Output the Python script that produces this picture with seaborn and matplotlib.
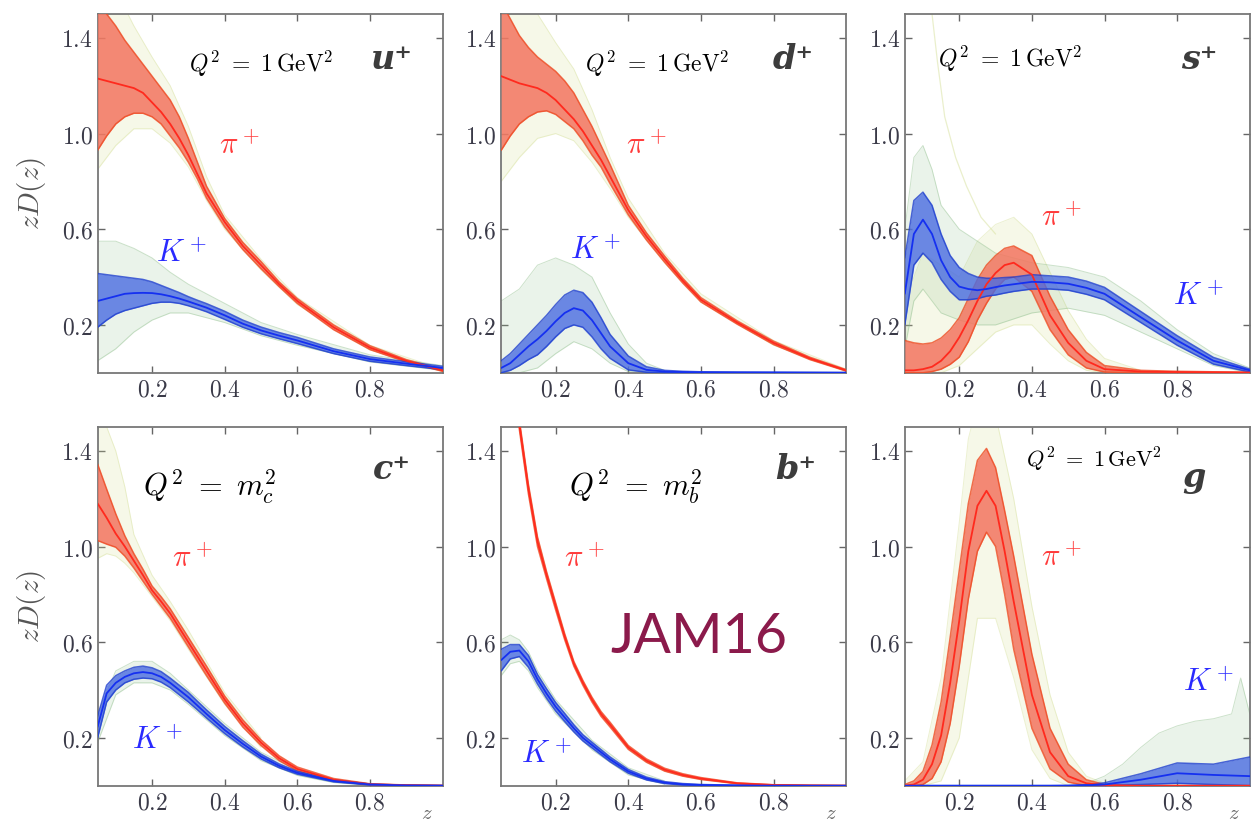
import numpy as np
import pandas as pd
import matplotlib
matplotlib.use("Agg")
import matplotlib.pyplot as plt
import seaborn as sns
from matplotlib.ticker import FormatStrFormatter

# shared z grid for the central curves and 1-sigma bands
z = [0.05, 0.075, 0.1, 0.125, 0.15, 0.175, 0.2, 0.225, 0.25, 0.275, 0.3,
     0.325, 0.35, 0.4, 0.45, 0.5, 0.55, 0.6, 0.7, 0.8, 0.9, 1.0]

# ---- u+ ----
u_pi_mid = [1.23, 1.22, 1.21, 1.20, 1.19, 1.17, 1.13, 1.09, 1.04, 0.98, 0.91, 0.83, 0.75, 0.63, 0.53, 0.45, 0.37, 0.30, 0.19, 0.105, 0.05, 0.01]
u_pi_lo = [0.93, 0.99, 1.04, 1.07, 1.085, 1.085, 1.07, 1.04, 0.99, 0.94, 0.88, 0.81, 0.73, 0.61, 0.515, 0.435, 0.36, 0.29, 0.18, 0.097, 0.045, 0.006]
u_pi_hi = [1.55, 1.50, 1.45, 1.39, 1.34, 1.29, 1.24, 1.19, 1.14, 1.07, 0.98, 0.88, 0.78, 0.645, 0.545, 0.465, 0.38, 0.31, 0.20, 0.113, 0.055, 0.014]
u_k_mid = [0.30, 0.31, 0.32, 0.33, 0.333, 0.334, 0.333, 0.328, 0.32, 0.31, 0.298, 0.285, 0.272, 0.24, 0.205, 0.177, 0.155, 0.135, 0.09, 0.057, 0.038, 0.02]
u_k_lo = [0.19, 0.22, 0.245, 0.26, 0.27, 0.28, 0.29, 0.295, 0.295, 0.29, 0.28, 0.268, 0.255, 0.223, 0.19, 0.163, 0.142, 0.122, 0.08, 0.048, 0.03, 0.013]
u_k_hi = [0.415, 0.41, 0.405, 0.40, 0.395, 0.39, 0.38, 0.365, 0.35, 0.335, 0.318, 0.303, 0.289, 0.257, 0.22, 0.191, 0.168, 0.148, 0.10, 0.066, 0.046, 0.027]
u_pi_halo_z = [0.05, 0.1, 0.15, 0.2, 0.25, 0.3, 0.35, 0.4, 0.5, 0.6, 0.8, 1.0]
u_pi_halo_lo = [0.85, 0.95, 1.02, 1.02, 0.96, 0.86, 0.72, 0.6, 0.43, 0.285, 0.095, 0.005]
u_pi_halo_hi = [1.6, 1.6, 1.45, 1.32, 1.2, 1.03, 0.82, 0.66, 0.475, 0.315, 0.115, 0.015]
u_k_halo_z = [0.05, 0.1, 0.15, 0.2, 0.25, 0.3, 0.4, 0.5, 0.6, 0.8, 1.0]
u_k_halo_lo = [0.05, 0.1, 0.17, 0.22, 0.25, 0.25, 0.21, 0.155, 0.115, 0.045, 0.01]
u_k_halo_hi = [0.55, 0.55, 0.52, 0.48, 0.42, 0.37, 0.29, 0.21, 0.16, 0.075, 0.03]

# ---- d+ ----
d_pi_mid = [1.24, 1.225, 1.21, 1.20, 1.19, 1.17, 1.14, 1.10, 1.06, 1.01, 0.95, 0.89, 0.82, 0.68, 0.57, 0.475, 0.385, 0.305, 0.21, 0.125, 0.06, 0.01]
d_pi_lo = [0.93, 0.99, 1.04, 1.07, 1.09, 1.095, 1.08, 1.05, 1.02, 0.97, 0.91, 0.86, 0.79, 0.66, 0.555, 0.462, 0.375, 0.296, 0.203, 0.118, 0.055, 0.007]
d_pi_hi = [1.55, 1.48, 1.41, 1.36, 1.32, 1.29, 1.26, 1.22, 1.17, 1.10, 1.03, 0.95, 0.87, 0.70, 0.585, 0.488, 0.395, 0.314, 0.217, 0.132, 0.065, 0.013]
d_k_mid = [0.02, 0.04, 0.075, 0.11, 0.14, 0.175, 0.215, 0.25, 0.27, 0.26, 0.22, 0.165, 0.11, 0.04, 0.012, 0.005, 0.003, 0.002, 0.001, 0.001, 0.0, 0.0]
d_k_lo = [0.0, 0.01, 0.03, 0.055, 0.075, 0.11, 0.15, 0.185, 0.2, 0.19, 0.15, 0.1, 0.06, 0.012, 0.002, 0.0, 0.0, 0.0, 0.0, 0.0, 0.0, 0.0]
d_k_hi = [0.05, 0.08, 0.12, 0.16, 0.2, 0.24, 0.285, 0.325, 0.345, 0.335, 0.295, 0.23, 0.16, 0.07, 0.025, 0.01, 0.006, 0.004, 0.003, 0.002, 0.002, 0.001]
d_pi_halo_z = [0.05, 0.1, 0.15, 0.2, 0.25, 0.3, 0.35, 0.4, 0.5, 0.6, 0.8, 1.0]
d_pi_halo_lo = [0.8, 0.9, 0.98, 1.0, 0.97, 0.88, 0.77, 0.65, 0.46, 0.295, 0.115, 0.005]
d_pi_halo_hi = [1.6, 1.6, 1.5, 1.38, 1.27, 1.1, 0.9, 0.73, 0.5, 0.33, 0.135, 0.015]
d_k_halo_z = [0.05, 0.1, 0.15, 0.2, 0.25, 0.3, 0.35, 0.4, 0.45, 0.5]
d_k_halo_lo = [0.0, 0.0, 0.02, 0.08, 0.13, 0.1, 0.04, 0.005, 0.0, 0.0]
d_k_halo_hi = [0.3, 0.35, 0.45, 0.48, 0.45, 0.4, 0.25, 0.12, 0.04, 0.01]

# ---- s+ ----
s_pi_mid = [0.01, 0.01, 0.015, 0.025, 0.05, 0.09, 0.148, 0.22, 0.30, 0.37, 0.417, 0.45, 0.46, 0.41, 0.24, 0.125, 0.05, 0.015, 0.005, 0.003, 0.002, 0.001]
s_pi_lo = [0.0, 0.0, 0.0, 0.005, 0.015, 0.035, 0.065, 0.13, 0.22, 0.29, 0.35, 0.39, 0.40, 0.34, 0.18, 0.075, 0.02, 0.003, 0.0, 0.0, 0.0, 0.0]
s_pi_hi = [0.135, 0.125, 0.12, 0.125, 0.145, 0.18, 0.23, 0.31, 0.39, 0.45, 0.49, 0.52, 0.53, 0.49, 0.32, 0.18, 0.085, 0.03, 0.01, 0.006, 0.004, 0.002]
s_k_mid = [0.33, 0.58, 0.64, 0.58, 0.47, 0.40, 0.36, 0.35, 0.345, 0.35, 0.358, 0.365, 0.37, 0.38, 0.378, 0.372, 0.355, 0.33, 0.232, 0.135, 0.05, 0.01]
s_k_lo = [0.2, 0.45, 0.5, 0.46, 0.39, 0.34, 0.305, 0.305, 0.31, 0.32, 0.325, 0.333, 0.34, 0.35, 0.35, 0.345, 0.328, 0.305, 0.21, 0.115, 0.036, 0.003]
s_k_hi = [0.48, 0.72, 0.755, 0.70, 0.58, 0.49, 0.44, 0.415, 0.40, 0.395, 0.395, 0.398, 0.40, 0.41, 0.405, 0.40, 0.383, 0.357, 0.256, 0.155, 0.064, 0.015]
s_pi_halo_z = [0.05, 0.1, 0.15, 0.2, 0.25, 0.3, 0.35, 0.4, 0.45, 0.5, 0.55, 0.6, 0.7]
s_pi_halo_lo = [0.0, 0.0, 0.0, 0.03, 0.1, 0.17, 0.2, 0.2, 0.12, 0.05, 0.01, 0.0, 0.0]
s_pi_halo_hi = [0.3, 0.5, 0.45, 0.4, 0.55, 0.62, 0.65, 0.58, 0.42, 0.26, 0.14, 0.06, 0.01]
s_pi_stray_z = [0.125, 0.14, 0.16, 0.19, 0.22, 0.26, 0.3]
s_pi_stray = [1.5, 1.3, 1.07, 0.9, 0.78, 0.65, 0.58]
s_k_halo_z = [0.05, 0.075, 0.1, 0.125, 0.15, 0.2, 0.25, 0.3, 0.4, 0.5, 0.6, 0.7, 0.8, 0.9, 1.0]
s_k_halo_lo = [0.1, 0.3, 0.35, 0.3, 0.25, 0.22, 0.2, 0.2, 0.25, 0.27, 0.24, 0.17, 0.1, 0.03, 0.0]
s_k_halo_hi = [0.6, 0.9, 0.95, 0.85, 0.7, 0.6, 0.55, 0.5, 0.46, 0.44, 0.4, 0.3, 0.18, 0.08, 0.02]

# ---- c+ ----
c_pi_mid = [1.18, 1.12, 1.054, 1.0, 0.94, 0.88, 0.817, 0.77, 0.72, 0.66, 0.60, 0.54, 0.48, 0.36, 0.26, 0.18, 0.115, 0.07, 0.025, 0.006, 0.002, 0.0]
c_pi_lo = [1.025, 1.01, 0.997, 0.96, 0.91, 0.855, 0.80, 0.75, 0.70, 0.64, 0.58, 0.52, 0.46, 0.345, 0.245, 0.168, 0.105, 0.062, 0.02, 0.004, 0.001, 0.0]
c_pi_hi = [1.345, 1.24, 1.137, 1.045, 0.97, 0.905, 0.835, 0.79, 0.74, 0.68, 0.62, 0.56, 0.50, 0.375, 0.275, 0.192, 0.125, 0.078, 0.03, 0.008, 0.003, 0.001]
c_k_mid = [0.246, 0.386, 0.43, 0.455, 0.47, 0.475, 0.47, 0.455, 0.43, 0.40, 0.37, 0.335, 0.30, 0.233, 0.175, 0.122, 0.083, 0.054, 0.02, 0.005, 0.001, 0.0]
c_k_lo = [0.2, 0.35, 0.40, 0.43, 0.445, 0.45, 0.447, 0.433, 0.41, 0.38, 0.35, 0.317, 0.283, 0.218, 0.162, 0.112, 0.075, 0.048, 0.016, 0.003, 0.0, 0.0]
c_k_hi = [0.29, 0.42, 0.46, 0.48, 0.495, 0.5, 0.493, 0.477, 0.45, 0.42, 0.39, 0.353, 0.317, 0.248, 0.188, 0.132, 0.091, 0.06, 0.024, 0.007, 0.002, 0.001]
c_pi_halo_z = [0.05, 0.075, 0.1, 0.125, 0.15, 0.2, 0.25, 0.3, 0.4, 0.5]
c_pi_halo_lo = [0.95, 0.97, 0.96, 0.93, 0.89, 0.79, 0.69, 0.57, 0.34, 0.16]
c_pi_halo_hi = [1.5, 1.5, 1.4, 1.25, 1.05, 0.88, 0.77, 0.65, 0.39, 0.2]
c_k_halo_z = [0.05, 0.1, 0.15, 0.2, 0.25, 0.3, 0.4, 0.5, 0.6, 0.7, 0.8]
c_k_halo_lo = [0.18, 0.38, 0.43, 0.43, 0.4, 0.34, 0.21, 0.105, 0.043, 0.013, 0.002]
c_k_halo_hi = [0.3, 0.48, 0.52, 0.52, 0.47, 0.4, 0.26, 0.14, 0.066, 0.027, 0.008]

# ---- b+ ----
b_pi_mid = [2.3, 1.85, 1.51, 1.24, 1.02, 0.88, 0.75, 0.622, 0.51, 0.43, 0.36, 0.30, 0.255, 0.16, 0.105, 0.067, 0.045, 0.03, 0.01, 0.003, 0.001, 0.0]
b_pi_lo = [2.28, 1.83, 1.49, 1.22, 1.0, 0.865, 0.735, 0.61, 0.5, 0.42, 0.35, 0.29, 0.245, 0.152, 0.098, 0.061, 0.04, 0.026, 0.008, 0.002, 0.0, 0.0]
b_pi_hi = [2.32, 1.87, 1.53, 1.26, 1.04, 0.895, 0.765, 0.635, 0.52, 0.44, 0.37, 0.31, 0.265, 0.168, 0.112, 0.073, 0.05, 0.034, 0.012, 0.004, 0.002, 0.001]
b_k_mid = [0.525, 0.56, 0.565, 0.52, 0.445, 0.385, 0.33, 0.285, 0.24, 0.2, 0.17, 0.14, 0.11, 0.06, 0.03, 0.013, 0.006, 0.003, 0.001, 0.0, 0.0, 0.0]
b_k_lo = [0.48, 0.53, 0.54, 0.495, 0.425, 0.365, 0.312, 0.268, 0.225, 0.187, 0.158, 0.129, 0.1, 0.052, 0.024, 0.009, 0.003, 0.001, 0.0, 0.0, 0.0, 0.0]
b_k_hi = [0.57, 0.59, 0.59, 0.545, 0.465, 0.405, 0.348, 0.302, 0.255, 0.213, 0.182, 0.151, 0.12, 0.068, 0.036, 0.017, 0.009, 0.005, 0.002, 0.001, 0.0, 0.0]
b_k_halo_z = [0.05, 0.075, 0.1, 0.125, 0.15, 0.2, 0.3, 0.4, 0.5]
b_k_halo_lo = [0.46, 0.51, 0.52, 0.48, 0.41, 0.3, 0.15, 0.045, 0.006]
b_k_halo_hi = [0.61, 0.63, 0.61, 0.56, 0.48, 0.36, 0.19, 0.075, 0.02]

# ---- g ----
g_pi_mid = [0.0, 0.005, 0.025, 0.09, 0.21, 0.43, 0.69, 0.98, 1.17, 1.233, 1.17, 0.98, 0.77, 0.38, 0.14, 0.04, 0.01, 0.002, 0.0, 0.0, 0.0, 0.0]
g_pi_lo = [0.0, 0.0, 0.005, 0.03, 0.1, 0.26, 0.5, 0.78, 0.98, 1.06, 1.0, 0.8, 0.57, 0.24, 0.07, 0.015, 0.0, 0.0, 0.0, 0.0, 0.0, 0.0]
g_pi_hi = [0.005, 0.02, 0.06, 0.17, 0.35, 0.62, 0.9, 1.18, 1.36, 1.41, 1.33, 1.15, 0.96, 0.55, 0.24, 0.09, 0.025, 0.005, 0.0, 0.0, 0.0, 0.0]
g_k_mid = [0.0, 0.0, 0.0, 0.0, 0.0, 0.0, 0.0, 0.0, 0.0, 0.0, 0.0, 0.0, 0.0, 0.0, 0.0, 0.0, 0.002, 0.005, 0.025, 0.052, 0.045, 0.04]
g_k_lo = [0.0, 0.0, 0.0, 0.0, 0.0, 0.0, 0.0, 0.0, 0.0, 0.0, 0.0, 0.0, 0.0, 0.0, 0.0, 0.0, 0.0, 0.0, 0.005, 0.01, 0.005, 0.0]
g_k_hi = [0.0, 0.0, 0.0, 0.0, 0.0, 0.0, 0.0, 0.0, 0.0, 0.0, 0.0, 0.0, 0.0, 0.0, 0.0, 0.001, 0.004, 0.012, 0.05, 0.095, 0.09, 0.12]
g_pi_halo_z = [0.05, 0.1, 0.15, 0.2, 0.225, 0.25, 0.3, 0.35, 0.4, 0.45, 0.5, 0.55, 0.6]
g_pi_halo_lo = [0.0, 0.0, 0.02, 0.2, 0.45, 0.7, 0.7, 0.45, 0.15, 0.03, 0.0, 0.0, 0.0]
g_pi_halo_hi = [0.02, 0.1, 0.45, 1.1, 1.45, 1.6, 1.55, 1.2, 0.75, 0.38, 0.14, 0.04, 0.01]
g_k_halo_z = [0.55, 0.6, 0.65, 0.7, 0.75, 0.8, 0.85, 0.9, 0.95, 0.975, 1.0]
g_k_halo_lo = [0.0, 0.0, 0.0, 0.0, 0.0, 0.0, 0.0, 0.0, 0.0, 0.0, 0.0]
g_k_halo_hi = [0.01, 0.04, 0.09, 0.16, 0.22, 0.25, 0.27, 0.28, 0.3, 0.45, 0.3]

flavours = ['u', 'd', 's', 'c', 'b', 'g']
flavour_labels = ['u\u207a', 'd\u207a', 's\u207a', 'c\u207a', 'b\u207a', 'g']
scale_labels = [r'$Q^2\ =\ 1\,\mathrm{GeV}^2$', r'$Q^2\ =\ 1\,\mathrm{GeV}^2$',
                r'$Q^2\ =\ 1\,\mathrm{GeV}^2$', r'$Q^2\ =\ m_c^2$',
                r'$Q^2\ =\ m_b^2$', r'$Q^2\ =\ 1\,\mathrm{GeV}^2$']
x_ticks = [0.2, 0.4, 0.6, 0.8]
y_ticks = [0.2, 0.6, 1.0, 1.4]

sns.set_style('ticks')
plt.rcParams['mathtext.fontset'] = 'cm'
plt.rcParams['font.family'] = ['DejaVu Sans']

PI_BAND, PI_EDGE, PI_LINE, PI_HALO = '#f37560', '#ee4a22', '#ff2a1e', '#d6e09a'
K_BAND, K_EDGE, K_LINE, K_HALO = '#4a6ce2', '#1f3fcf', '#1530f0', '#8fbf8c'

# text positions (data coords) per panel: scale, flavour, pi label, K label
label_pos = {
    'u': [(0.50, 1.29, 17), (0.86, 1.31), (0.44, 0.95), (0.28, 0.50)],
    'd': [(0.48, 1.29, 17), (0.855, 1.31), (0.45, 0.95), (0.31, 0.51)],
    's': [(0.34, 1.31, 17), (0.86, 1.31), (0.48, 0.65), (0.86, 0.32)],
    'c': [(0.36, 1.25, 22), (0.86, 1.32), (0.31, 0.95), (0.215, 0.19)],
    'b': [(0.42, 1.25, 22), (0.86, 1.32), (0.28, 0.95), (0.175, 0.13)],
    'g': [(0.57, 1.36, 16), (0.845, 1.29), (0.48, 0.955), (0.885, 0.43)],
}


def draw_band(ax, mid, lo, hi, band_col, edge_col, line_col, alpha):
    ax.fill_between(z, lo, hi, color=band_col, alpha=alpha, lw=0, zorder=3)
    ax.plot(z, lo, color=edge_col, lw=1.1, alpha=0.8, zorder=3)
    ax.plot(z, hi, color=edge_col, lw=1.1, alpha=0.8, zorder=3)
    sns.lineplot(x=z, y=mid, ax=ax, color=line_col, lw=1.3, sort=False,
                 estimator=None, zorder=4)


def draw_halo(ax, hz, hlo, hhi, col, alpha):
    ax.fill_between(hz, hlo, hhi, color=col, alpha=alpha, lw=0, zorder=2)
    ax.plot(hz, hhi, color=col, lw=0.7, alpha=0.45, zorder=2)
    ax.plot(hz, hlo, color=col, lw=0.7, alpha=0.45, zorder=2)


fig, axes = plt.subplots(2, 3, figsize=(12.51, 8.21), dpi=100)
fig.subplots_adjust(left=0.078, right=0.999, bottom=0.043, top=0.983,
                    wspace=0.17, hspace=0.151)

data = globals()
for i, (f, ax) in enumerate(zip(flavours, axes.flat)):
    if f + '_pi_halo_z' in data:
        draw_halo(ax, data[f + '_pi_halo_z'], data[f + '_pi_halo_lo'],
                  data[f + '_pi_halo_hi'], PI_HALO, 0.22)
    if f + '_k_halo_z' in data:
        draw_halo(ax, data[f + '_k_halo_z'], data[f + '_k_halo_lo'],
                  data[f + '_k_halo_hi'], K_HALO, 0.18)
    if f == 's':
        ax.plot(s_pi_stray_z, s_pi_stray, color=PI_HALO, lw=0.9, alpha=0.5,
                zorder=2)

    draw_band(ax, data[f + '_pi_mid'], data[f + '_pi_lo'], data[f + '_pi_hi'],
              PI_BAND, PI_EDGE, PI_LINE, 0.85)
    draw_band(ax, data[f + '_k_mid'], data[f + '_k_lo'], data[f + '_k_hi'],
              K_BAND, K_EDGE, K_LINE, 0.8)

    ax.set_xlim(0.05, 1.0)
    ax.set_ylim(0.0, 1.5)
    ax.set_xticks(x_ticks)
    ax.set_yticks(y_ticks)
    ax.xaxis.set_major_formatter(FormatStrFormatter('$%.1f$'))
    ax.yaxis.set_major_formatter(FormatStrFormatter('$%.1f$'))
    ax.tick_params(direction='in', length=5, width=1.0, color='#666666',
                   labelcolor='#3a3a48', labelsize=17, top=True, right=True)
    for sp in ax.spines.values():
        sp.set_color('#777777')
        sp.set_linewidth(1.3)
    ax.set_xlabel('')
    ax.set_ylabel('')

    (sx, sy, sfs), (fx, fy), (px, py), (kx, ky) = label_pos[f]
    ax.text(sx, sy, scale_labels[i], fontsize=sfs, color='black',
            ha='center', va='center', zorder=6)
    ax.text(fx, fy, flavour_labels[i], fontsize=24, family='DejaVu Serif',
            fontweight='bold', fontstyle='italic', color='#3c3c3c',
            ha='center', va='center', zorder=6)
    ax.text(px, py, r'$\pi^+$', fontsize=22, color='#ff3b3b',
            ha='center', va='center', zorder=6)
    ax.text(kx, ky, r'$K^+$', fontsize=22, color='#2a2aff',
            ha='center', va='center', zorder=6)

    if i % 3 == 0:
        ax.set_ylabel(r'$zD(z)$', fontsize=21, color='#555555')
        ax.yaxis.set_label_coords(-0.145, 0.5)
    if i >= 3:
        ax.text(0.955, -0.075, r'$z$', transform=ax.transAxes, fontsize=15,
                color='#666666', ha='center', va='center')

axes[1, 1].text(0.595, 0.62, 'JAM16', fontsize=40, family='Lato',
                color='#8b1a4b', ha='center', va='center', zorder=6)

fig.savefig('out.png', dpi=100)
